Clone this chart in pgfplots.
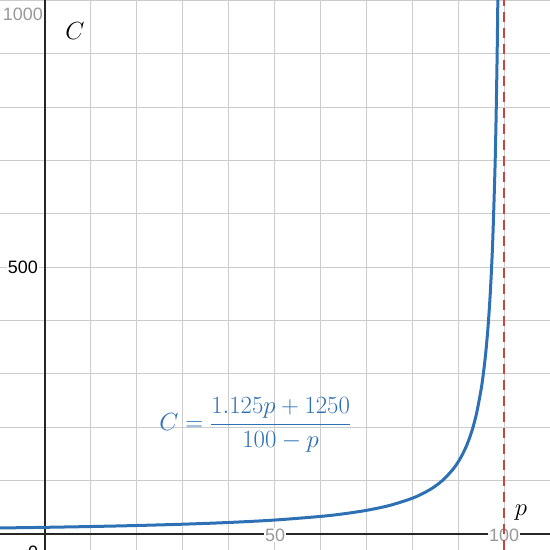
\documentclass[border=0pt]{standalone}
\usepackage{pgfplots}
\pgfplotsset{compat=1.18}
\usepackage{fontspec}
\newfontfamily\lsans{Liberation Sans}
\definecolor{dblue}{HTML}{2D70B3}
\definecolor{dred}{HTML}{C74440}
\definecolor{mingrid}{HTML}{CCCCCC}
\definecolor{majgrid}{HTML}{888888}
\definecolor{lblgray}{HTML}{999999}
\begin{document}
\begin{tikzpicture}
\begin{axis}[
  width=550bp, height=550bp, scale only axis,
  xmin=-9.8, xmax=110, ymin=-30, ymax=1001,
  axis line style={draw=none},
  major tick length=0pt,
  xtick={0,10,...,110}, ytick={0,100,...,1000},
  xticklabels={}, yticklabels={},
  grid=major,
  major grid style={mingrid, line width=1bp},
  extra x ticks={50,100}, extra y ticks={500,1000},
  extra x tick labels={}, extra y tick labels={},
  extra tick style={grid style={majgrid, line width=1bp}},
  clip mode=individual,
]
\coordinate (SW) at (rel axis cs:0,0);
\coordinate (NE) at (rel axis cs:1,1);
% axes
\draw[black!85, line width=2bp] (axis cs:-9.8,0) -- (axis cs:110,0);
\draw[black!85, line width=2bp] (axis cs:0,-30) -- (axis cs:0,1001);
% tick labels
\node[font=\lsans\fontsize{18}{20}\selectfont, text=lblgray, fill=white, inner sep=1bp] at (axis cs:50.1,-2) {50};
\node[font=\lsans\fontsize{18}{20}\selectfont, text=lblgray, fill=white, inner sep=1bp] at (axis cs:100,-3) {100};
\node[font=\lsans\fontsize{18}{20}\selectfont, text=black, fill=white, inner sep=1bp, anchor=east] at (axis cs:-1.3,500) {500};
\node[font=\lsans\fontsize{18}{20}\selectfont, text=lblgray, inner sep=1bp, anchor=east] at (axis cs:-0.2,975) {1000};
\node[font=\lsans\fontsize{18}{20}\selectfont, text=black, inner sep=1bp] at (axis cs:-2.6,-35) {0};
% curve
\addplot[dblue, line width=3bp, smooth] coordinates {
(-10,11.26) (0,12.50) (10,14.01) (20,15.91) (30,18.34) (40,21.58) (50,26.13)
(60,32.94) (65,37.80) (70,44.29) (75,53.38) (80,67.00) (83,79.02) (85,89.71)
(87,103.68) (89,122.74) (90,135.13) (91,150.26) (92,169.19) (93,193.52)
(94,225.96) (95,271.38) (95.5,301.65) (96,339.50) (96.5,388.16) (97,453.04)
(97.5,543.88) (98,680.13) (98.25,777.45) (98.5,907.21) (98.7,1046.95) (98.75,1088.90)
};
% asymptote
\addplot[dred, line width=2.6bp, dash pattern=on 10bp off 6bp] coordinates {(100,-30) (100,1001)};
% labels
\node[font=\fontsize{28}{32}\selectfont] at (axis cs:6.5,943) {$C$};
\node[font=\fontsize{28}{32}\selectfont] at (axis cs:103.7,41) {$p$};
\node[font=\fontsize{25}{28}\selectfont, text=dblue] at (axis cs:45.8,205) {$\displaystyle C=\frac{1.125p+1250}{100-p}$};
\end{axis}
\pgfresetboundingbox
\path (SW) rectangle (NE);
\end{tikzpicture}
\end{document}
